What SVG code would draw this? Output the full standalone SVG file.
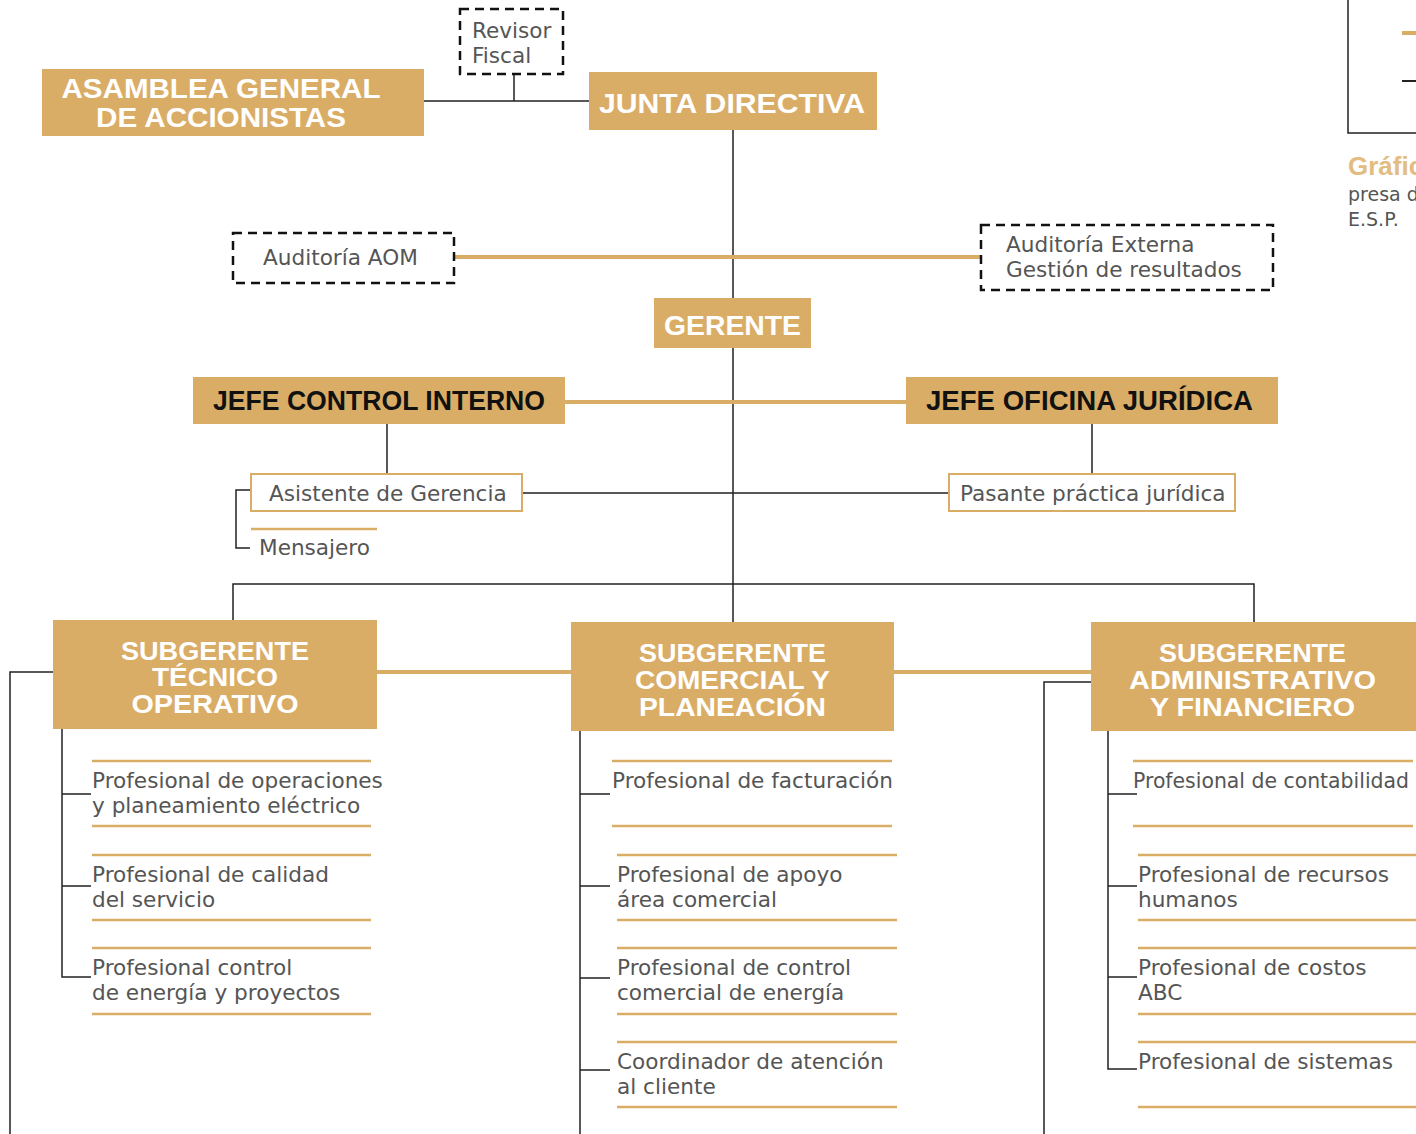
<svg xmlns="http://www.w3.org/2000/svg" width="1416" height="1134" viewBox="0 0 1416 1134">
<style>
.gbox{fill:#DAAD67}
.wbox{fill:#fff;stroke:#DAAD67;stroke-width:2}
.dbox{fill:#fff;stroke:#111;stroke-width:2.5;stroke-dasharray:9 6}
.ln{stroke:#222;stroke-width:1.5;fill:none}
.gl{stroke:#DAAD67;stroke-width:4;fill:none}
.ul{stroke:#DAAD67;stroke-width:2.5;fill:none}
.hw{font-family:"Liberation Sans",Arial,sans-serif;font-weight:bold;fill:#fff;text-anchor:middle}
.hb{font-family:"Liberation Sans",Arial,sans-serif;font-weight:bold;fill:#111;text-anchor:middle;font-size:27px}
.t{font-family:"DejaVu Sans","Liberation Sans",sans-serif;fill:#555;font-size:21.6px}
</style>
<g id="connectors">
<path class="ln" d="M424 101H589M514 74V101"/>
<path class="ln" d="M733 130V298M733 348V622"/>
<path class="gl" d="M454 257H981"/>
<path class="gl" d="M565 402H906"/>
<path class="ln" d="M387 424V474M1092 424V474M522 493H949"/>
<path class="ln" d="M250 490H236V548H250"/>
<path class="ln" d="M233 620V584H1254V622"/>
<path class="gl" d="M377 672H571M894 672H1091"/>
<path class="ln" d="M53 672H10V1134"/>
<path class="ln" d="M1091 682H1044V1134"/>
<path class="ln" d="M62 729V977H91M62 794H91M62 886H91"/>
<path class="ln" d="M580 731V1134M580 794H610M580 886H610M580 978H610M580 1070H610"/>
<path class="ln" d="M1108 731V1069H1137M1108 794H1137M1108 886H1137M1108 977H1137"/>
</g>
<g id="legend">
<path class="ln" d="M1348 0V133H1416"/>
<path class="gl" d="M1402 33H1416"/>
<path class="ln" d="M1402 81H1416" style="stroke-width:2"/>
<text x="1348" y="175" style="font-family:'Liberation Sans',Arial,sans-serif;font-weight:bold;font-size:26px;fill:#E2BC80">Gráfico</text>
<text x="1348" y="201" class="t" style="font-size:19px">presa de</text>
<text x="1348" y="226" class="t" style="font-size:19px">E.S.P.</text>
</g>
<g id="asamblea">
<rect class="gbox" x="42" y="69" width="382" height="67"/>
<text class="hw" x="221" y="98" font-size="28" textLength="319" lengthAdjust="spacingAndGlyphs">ASAMBLEA  GENERAL</text>
<text class="hw" x="221" y="127" font-size="28" textLength="250" lengthAdjust="spacingAndGlyphs">DE ACCIONISTAS</text>
</g>
<g id="revisor">
<rect class="dbox" x="460" y="9" width="103" height="65"/>
<text class="t" x="472" y="38">Revisor</text>
<text class="t" x="472" y="63">Fiscal</text>
</g>
<g id="junta">
<rect class="gbox" x="589" y="72" width="288" height="58"/>
<text class="hw" x="732" y="113" font-size="28" textLength="266" lengthAdjust="spacingAndGlyphs">JUNTA DIRECTIVA</text>
</g>
<g id="aom">
<rect class="dbox" x="233" y="233" width="221" height="50"/>
<text class="t" x="263" y="265">Auditoría AOM</text>
</g>
<g id="externa">
<rect class="dbox" x="981" y="225" width="292" height="65"/>
<text class="t" x="1006" y="252">Auditoría Externa</text>
<text class="t" x="1006" y="277">Gestión de resultados</text>
</g>
<g id="gerente">
<rect class="gbox" x="654" y="298" width="157" height="50"/>
<text class="hw" x="732.5" y="335" font-size="28" textLength="137" lengthAdjust="spacingAndGlyphs">GERENTE</text>
</g>
<g id="control-interno">
<rect class="gbox" x="193" y="377" width="372" height="47"/>
<text class="hb" x="379" y="410" textLength="332" lengthAdjust="spacingAndGlyphs">JEFE CONTROL INTERNO</text>
</g>
<g id="juridica">
<rect class="gbox" x="906" y="377" width="372" height="47"/>
<text class="hb" x="1089.5" y="410" textLength="327" lengthAdjust="spacingAndGlyphs">JEFE OFICINA JURÍDICA</text>
</g>
<g id="asistente">
<rect class="wbox" x="251" y="474" width="271" height="37"/>
<text class="t" x="269" y="501">Asistente de Gerencia</text>
</g>
<g id="mensajero">
<path class="ul" d="M251 529H377"/>
<text class="t" x="259" y="555">Mensajero</text>
</g>
<g id="pasante">
<rect class="wbox" x="949" y="474" width="286" height="37"/>
<text class="t" x="960" y="501">Pasante práctica jurídica</text>
</g>
<g id="sub-tecnico">
<rect class="gbox" x="53" y="620" width="324" height="109"/>
<text class="hw" x="215" y="660" font-size="25" textLength="188" lengthAdjust="spacingAndGlyphs">SUBGERENTE</text>
<text class="hw" x="215" y="686" font-size="25" textLength="126" lengthAdjust="spacingAndGlyphs">TÉCNICO</text>
<text class="hw" x="215" y="713" font-size="25" textLength="167" lengthAdjust="spacingAndGlyphs">OPERATIVO</text>
</g>
<g id="sub-comercial">
<rect class="gbox" x="571" y="622" width="323" height="109"/>
<text class="hw" x="732.5" y="662" font-size="25" textLength="187" lengthAdjust="spacingAndGlyphs">SUBGERENTE</text>
<text class="hw" x="732.5" y="689" font-size="25" textLength="195" lengthAdjust="spacingAndGlyphs">COMERCIAL Y</text>
<text class="hw" x="732.5" y="716" font-size="25" textLength="187" lengthAdjust="spacingAndGlyphs">PLANEACIÓN</text>
</g>
<g id="sub-admin">
<rect class="gbox" x="1091" y="622" width="325" height="109"/>
<text class="hw" x="1252.5" y="662" font-size="25" textLength="187" lengthAdjust="spacingAndGlyphs">SUBGERENTE</text>
<text class="hw" x="1252.5" y="689" font-size="25" textLength="247" lengthAdjust="spacingAndGlyphs">ADMINISTRATIVO</text>
<text class="hw" x="1252.5" y="716" font-size="25" textLength="205" lengthAdjust="spacingAndGlyphs">Y FINANCIERO</text>
</g>
<g id="t1"><path class="ul" d="M92 761H371M92 826H371"/><text class="t" x="92" y="788">Profesional de operaciones</text><text class="t" x="92" y="813">y planeamiento eléctrico</text></g>
<g id="t2"><path class="ul" d="M92 855H371M92 920H371"/><text class="t" x="92" y="882">Profesional de calidad</text><text class="t" x="92" y="907">del servicio</text></g>
<g id="t3"><path class="ul" d="M92 948H371M92 1014H371"/><text class="t" x="92" y="975">Profesional control</text><text class="t" x="92" y="1000">de energía y proyectos</text></g>
<g id="c1"><path class="ul" d="M612 761H892M612 826H892"/><text class="t" x="612" y="788">Profesional de facturación</text></g>
<g id="c2"><path class="ul" d="M617 855H897M617 920H897"/><text class="t" x="617" y="882">Profesional de apoyo</text><text class="t" x="617" y="907">área comercial</text></g>
<g id="c3"><path class="ul" d="M617 948H897M617 1014H897"/><text class="t" x="617" y="975">Profesional de control</text><text class="t" x="617" y="1000">comercial de energía</text></g>
<g id="c4"><path class="ul" d="M617 1042H897M617 1107H897"/><text class="t" x="617" y="1069">Coordinador de atención</text><text class="t" x="617" y="1094">al cliente</text></g>
<g id="a1"><path class="ul" d="M1133 761H1413M1133 826H1413"/><text class="t" x="1133" y="788" textLength="276" lengthAdjust="spacingAndGlyphs">Profesional de contabilidad</text></g>
<g id="a2"><path class="ul" d="M1138 855H1416M1138 920H1416"/><text class="t" x="1138" y="882">Profesional de recursos</text><text class="t" x="1138" y="907">humanos</text></g>
<g id="a3"><path class="ul" d="M1138 948H1416M1138 1014H1416"/><text class="t" x="1138" y="975">Profesional de costos</text><text class="t" x="1138" y="1000">ABC</text></g>
<g id="a4"><path class="ul" d="M1138 1042H1416M1138 1107H1416"/><text class="t" x="1138" y="1069">Profesional de sistemas</text></g>
</svg>
